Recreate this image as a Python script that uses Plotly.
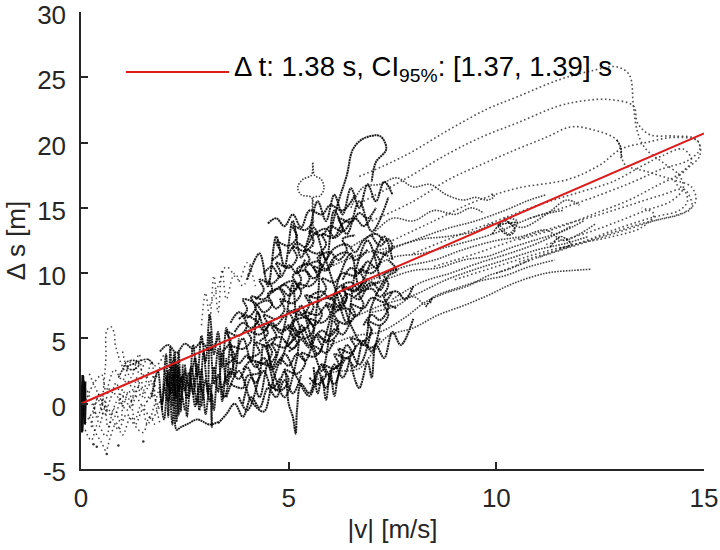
import plotly.graph_objects as go

# ---------------- data ----------------
fit_x = [0.0, 15.0]
fit_y = [0.0, 20.7]

x_ticks = [0, 5, 10, 15]
x_tick_text = ["0", "5", "10", "15"]
y_ticks = [-5, 0, 5, 10, 15, 20, 25, 30]
y_tick_text = ["-5", "0", "5", "10", "15", "20", "25", "30"]

fit_label = "Δ t: 1.38 s, CI<sub>95%</sub>: [1.37, 1.39] s"

# dense strip at |v| = 0
strip_paths = [
    [(0.02, -2.2), (0.05, 2.1), (0.01, -1.9), (0.06, 1.8), (0.03, -2.1), (0.04, 2.2),
     (0.0, -1.5), (0.07, 1.6), (0.02, -2.0), (0.05, 1.9), (0.01, -1.7), (0.06, 0.9), (0.03, -2.1)],
    [(0.08, -1.0), (0.1, 1.2), (0.09, -1.6), (0.11, 0.4), (0.08, -0.6), (0.1, 1.7)],
]

# sparse cloud 0 < |v| < 2
left_paths = [
    [(0.1, -1.5), (0.3, -0.5), (0.45, 0.8), (0.55, -0.3), (0.7, 1.2), (0.9, 0.5), (1.1, 1.8),
     (1.3, 0.9), (1.5, 2.2), (1.7, 1.5), (1.9, 2.8)],
    [(0.15, 0.5), (0.3, 1.5), (0.5, 2.2), (0.6, 1.0), (0.8, 2.6), (1.0, 1.8), (1.2, 3.2),
     (1.4, 2.4), (1.6, 3.4), (1.8, 2.9), (2.0, 3.8)],
    [(0.1, -2.0), (0.25, -2.8), (0.4, -1.6), (0.6, -2.5), (0.75, -1.2), (0.9, -2.0), (1.1, -0.8),
     (1.3, -1.6), (1.5, -0.4), (1.7, -1.2), (1.9, 0.2)],
    [(0.2, -1.0), (0.35, -2.2), (0.5, -3.0), (0.6, -3.6), (0.7, -2.6), (0.85, -1.5), (1.0, -2.4),
     (1.2, -1.0), (1.35, -1.9), (1.5, -2.2), (1.65, -1.0), (1.8, -1.8)],
    [(0.5, -0.5), (0.55, 1.5), (0.6, 3.5), (0.62, 5.6), (0.72, 5.9), (0.8, 5.4), (0.82, 4.6),
     (0.87, 4.0), (0.95, 3.2), (1.05, 2.5)],
    [(0.2, 2.3), (0.35, 1.2), (0.5, 0.2), (0.7, -0.8), (0.9, 0.3), (1.1, -0.5), (1.3, 0.6),
     (1.5, -0.2), (1.7, 0.8), (1.9, -0.6)],
    [(0.15, 1.0), (0.3, -0.3), (0.45, -1.5), (0.6, -0.2), (0.8, -1.0), (1.0, 0.6), (1.2, -0.3),
     (1.4, 1.3), (1.6, 0.2), (1.8, 1.6)],
    [(1.0, 4.0), (1.2, 2.0), (1.4, 3.8), (1.5, 1.0), (1.7, 3.2), (1.8, 0.0), (1.9, -1.5)],
    [(0.3, 0.0), (0.4, -1.0), (0.55, 0.4), (0.65, -1.8), (0.8, -0.4), (0.95, -1.4), (1.05, 0.9),
     (1.2, 0.2), (1.35, 2.0), (1.45, 0.5), (1.6, 1.2), (1.75, 2.2)],
    [(0.25, -1.8), (0.4, 0.4), (0.55, -0.9), (0.7, 0.3), (0.85, 1.6), (1.0, -0.2), (1.15, 1.0),
     (1.3, -1.2), (1.45, -0.1), (1.6, -1.6), (1.75, -0.3), (1.9, 1.4)],
]
left_loop_paths = [
    [(0.9, 2.0), (1.0, 2.6), (1.1, 3.2), (1.3, 3.3), (1.4, 3.0), (1.25, 2.6), (1.1, 2.8),
     (1.3, 3.1), (1.6, 3.4), (1.75, 3.0)],
]
left_dots_x = [0.38, 0.62, 0.3, 0.9, 1.5]
left_dots_y = [-3.3, -3.85, -3.1, -3.2, -2.9]

# dense columns around |v| = 2 ... 3.5
column_paths = [
    [(1.95, -0.5), (2.05, 3.8), (2.1, -1.0), (2.15, 4.3), (2.2, -0.2), (2.25, 3.5), (2.3, -1.4),
     (2.35, 2.8), (2.4, -0.6), (2.45, 3.0)],
    [(1.9, 1.0), (2.0, -1.2), (2.1, 2.5), (2.2, -1.6), (2.25, 1.5), (2.3, -2.0), (2.4, -1.8),
     (2.6, -1.5), (2.8, -1.2), (3.1, -1.6), (3.3, -1.4)],
    [(1.7, 0.5), (1.85, 2.5), (1.95, 0.0), (2.05, 2.0), (2.15, 0.8), (2.25, 3.9), (2.35, 1.0),
     (2.45, 2.2), (2.55, 0.4), (2.65, 2.8), (2.75, 1.2)],
    [(1.9, 4.0), (2.1, 4.5), (2.3, 3.9), (2.5, 4.6), (2.7, 4.2), (2.9, 4.7), (3.1, 4.1), (3.3, 5.0)],
    [(2.6, 0.5), (2.75, 3.5), (2.85, -0.5), (2.95, 4.0), (3.05, 0.8), (3.1, 5.5), (3.2, 1.5),
     (3.3, 4.2), (3.4, 0.2), (3.5, 3.5)],
    [(2.7, 2.0), (2.8, 0.0), (2.9, 2.6), (3.0, -0.8), (3.1, 1.5), (3.15, -1.8), (3.15, 0.8),
     (3.2, -0.5), (3.3, 2.2), (3.45, 0.5), (3.6, 2.8)],
    [(2.5, 3.0), (2.6, 1.2), (2.7, 4.5), (2.8, 2.0), (2.9, 5.2), (3.0, 3.2), (3.1, 6.8),
     (3.2, 3.8), (3.3, 5.5), (3.4, 2.8), (3.5, 5.8), (3.6, 4.0)],
    [(2.0, 1.5), (2.1, 0.2), (2.2, 2.2), (2.3, 0.5), (2.35, 4.0), (2.4, 1.5), (2.5, -0.5)],
    [(2.0, 2.8), (2.1, 1.4), (2.2, 3.2), (2.25, 0.3), (2.3, 2.6), (2.35, -0.9), (2.4, 2.0),
     (2.5, 1.0), (2.6, 2.4), (2.7, 0.8), (2.8, 3.0), (2.9, 1.0)],
    [(2.9, -0.2), (3.0, 1.8), (3.1, 0.2), (3.2, 2.8), (3.3, 0.9), (3.4, 3.9), (3.5, 1.5),
     (3.6, 4.6), (3.7, 2.2), (3.8, 5.0)],
    [(2.2, 0.8), (2.3, 3.0), (2.4, 0.0), (2.5, 2.6), (2.55, -1.0), (2.65, 1.6), (2.75, -0.2),
     (2.85, 1.5), (2.95, 0.3)],
]
upper_sparse_paths = [
    [(2.9, 6.0), (3.0, 8.5), (3.1, 6.5), (3.2, 9.8), (3.3, 7.0), (3.4, 10.3), (3.5, 8.0),
     (3.7, 10.0), (3.9, 9.0), (4.1, 11.0)],
    [(3.1, 7.5), (3.3, 9.0), (3.5, 10.5), (3.8, 9.5), (4.0, 10.8), (4.2, 9.0)],
]

# main core 3.5 < |v| < 7.5 : curly tracks
core_paths = [
    [(3.5, 3.0), (3.7, 3.6), (3.6, 4.4), (3.9, 4.2), (4.1, 4.9), (4.0, 5.6), (4.3, 5.3), (4.5, 6.0),
     (4.4, 6.8), (4.7, 6.5), (4.9, 7.2), (4.8, 8.0), (5.1, 7.7), (5.3, 8.5), (5.2, 9.2), (5.5, 9.0),
     (5.7, 9.7), (5.6, 10.5), (5.9, 10.2), (6.1, 11.0)],
    [(3.6, 1.5), (3.9, 1.2), (4.0, 2.1), (4.3, 2.4), (4.2, 3.2), (4.5, 3.0), (4.7, 3.8), (4.6, 4.6),
     (4.9, 4.3), (5.1, 5.0), (5.0, 5.8), (5.3, 5.5), (5.5, 6.2), (5.4, 7.0), (5.7, 6.8), (5.9, 7.5),
     (6.2, 7.2), (6.4, 8.1), (6.3, 8.9), (6.6, 8.6), (6.8, 9.4)],
    [(4.2, 8.0), (4.4, 8.7), (4.3, 9.5), (4.6, 9.2), (4.8, 10.0), (4.7, 10.8), (5.0, 10.4),
     (5.2, 11.2), (5.1, 12.0), (5.4, 11.7), (5.6, 12.4), (5.5, 13.2), (5.8, 12.9), (6.0, 13.6),
     (6.3, 13.2), (6.5, 14.0)],
    [(4.5, 1.5), (4.8, 1.0), (5.0, 1.8), (4.9, 2.6), (5.2, 2.3), (5.4, 3.1), (5.3, 3.9), (5.6, 3.6),
     (5.8, 4.3), (5.7, 5.1), (6.0, 4.8), (6.2, 5.6), (6.1, 6.4), (6.4, 6.1), (6.6, 6.8), (6.5, 7.6),
     (6.8, 7.3), (7.0, 8.1), (7.3, 7.8), (7.5, 8.6)],
    [(3.8, 6.5), (4.0, 7.2), (3.9, 8.0), (4.2, 7.7), (4.4, 7.0), (4.6, 7.6), (4.5, 8.4), (4.8, 8.8),
     (5.0, 8.3), (5.2, 9.0), (5.1, 9.8), (5.4, 10.2), (5.6, 9.6), (5.8, 10.4), (5.7, 11.2),
     (6.0, 11.6), (6.2, 11.0), (6.4, 11.8), (6.3, 12.6), (6.6, 12.9)],
    [(5.0, 4.0), (5.2, 4.6), (5.1, 5.3), (5.4, 5.0), (5.6, 5.7), (5.5, 6.5), (5.8, 6.2), (6.0, 6.9),
     (5.9, 7.7), (6.2, 7.4), (6.4, 8.2), (6.3, 9.0), (6.6, 8.7), (6.8, 9.5), (6.7, 10.3), (7.0, 10.0),
     (7.2, 10.8), (7.1, 11.6), (7.4, 11.3)],
    [(4.0, 3.5), (4.3, 3.9), (4.2, 4.7), (4.5, 4.4), (4.7, 5.2), (4.6, 5.9), (4.9, 5.6), (5.1, 6.4),
     (5.0, 7.1), (5.3, 6.8), (5.5, 7.6), (5.4, 8.3), (5.7, 8.1), (5.9, 8.8), (5.8, 9.6), (6.1, 9.3),
     (6.3, 10.0), (6.6, 9.8), (6.8, 10.6)],
    [(5.3, 10.5), (5.5, 11.0), (5.4, 11.8), (5.7, 11.5), (5.9, 12.2), (5.8, 13.0), (6.1, 12.7),
     (6.3, 13.4), (6.2, 14.2), (6.5, 13.9), (6.7, 14.6), (6.9, 14.2), (7.1, 15.0)],
    [(6.0, 2.5), (6.2, 3.0), (6.1, 3.8), (6.4, 3.5), (6.6, 4.3), (6.5, 5.0), (6.8, 4.8), (7.0, 5.5),
     (6.9, 6.3), (7.2, 6.0), (7.4, 6.8), (7.3, 7.6), (7.6, 7.3)],
    [(3.4, 4.0), (3.6, 4.8), (3.5, 5.5), (3.8, 5.2), (4.0, 6.0), (3.9, 6.8), (4.2, 6.4), (4.4, 5.6),
     (4.6, 6.2), (4.8, 5.4), (5.0, 6.0), (5.2, 5.3), (5.4, 5.9)],
    [(5.5, 2.0), (5.7, 1.5), (5.9, 2.2), (5.8, 3.0), (6.1, 2.7), (6.3, 3.4), (6.2, 4.2), (6.5, 3.9),
     (6.7, 4.6), (7.0, 4.3), (7.2, 5.0)],
    [(4.6, 11.0), (4.8, 11.6), (4.7, 12.4), (5.0, 12.1), (5.2, 12.8), (5.1, 13.6), (5.4, 13.3),
     (5.6, 14.0)],
    [(3.6, 2.0), (3.9, 5.0), (4.1, 3.2), (4.25, 7.0), (4.5, 4.1), (4.6, 2.8), (4.9, 6.0), (5.1, 9.2),
     (5.2, 6.5), (5.5, 4.5), (5.7, 8.0), (5.8, 11.5), (6.1, 9.0), (6.4, 6.2), (6.6, 10.0),
     (6.9, 12.5), (7.2, 9.5)],
    [(3.8, 0.5), (4.0, -0.5), (4.3, 2.2), (4.4, 4.5), (4.7, 1.8), (4.9, 0.5), (5.2, 3.5), (5.3, 6.0),
     (5.6, 4.0), (5.8, 2.5), (6.0, 5.5), (6.2, 8.5), (6.5, 6.0), (6.8, 4.5), (7.0, 7.5), (7.3, 9.5)],
    [(4.0, 9.5), (4.3, 11.5), (4.5, 9.0), (4.7, 12.8), (4.9, 10.5), (5.1, 14.0), (5.3, 11.2),
     (5.6, 13.5), (5.9, 11.0), (6.1, 14.8), (6.4, 13.0), (6.7, 15.5), (7.0, 13.2), (7.4, 15.8)],
    [(4.8, 3.0), (5.0, 5.0), (5.3, 7.5), (5.5, 5.5), (5.7, 3.8), (6.0, 6.5), (6.2, 9.5), (6.5, 11.5),
     (6.7, 9.0), (7.0, 11.0), (7.3, 12.8), (7.5, 11.0)],
    [(3.5, 0.5), (3.8, 2.5), (4.1, 0.2), (4.4, -0.6), (4.6, 1.5), (4.9, 3.8), (5.2, 2.0), (5.5, 0.6),
     (5.8, 3.0), (6.1, 1.5), (6.4, 4.5), (6.7, 3.0), (7.0, 5.8)],
    [(4.5, 13.8), (4.7, 14.2), (4.9, 13.6), (5.1, 14.5), (5.3, 13.5), (5.5, 14.8), (5.8, 14.5),
     (6.0, 15.2), (6.3, 14.8), (6.6, 16.0)],
    [(3.9, 0.0), (4.1, 2.0), (4.3, 0.5), (4.5, 3.0), (4.7, 1.0), (4.9, 2.5), (5.0, 0.0), (5.1, -1.0),
     (5.17, -2.3), (5.2, -0.5), (5.3, 1.5), (5.5, 0.8), (5.7, 2.5), (5.9, 1.2), (6.1, 3.0),
     (6.3, 2.0), (6.5, 3.8)],
    [(5.6, 2.8), (5.7, 0.8), (5.8, 2.0), (5.9, 0.3), (6.0, 2.5), (6.1, 0.6), (6.2, 2.2), (6.4, 3.5),
     (6.6, 2.8), (6.8, 4.8), (7.0, 4.0), (7.2, 6.0)],
    [(6.0, 13.0), (6.2, 15.5), (6.4, 17.5), (6.55, 19.5), (6.8, 20.3), (7.2, 20.5), (7.35, 19.5),
     (7.1, 18.5), (7.0, 17.0)],
    [(5.5, 13.0), (5.7, 15.5), (5.9, 14.0), (6.1, 16.0), (6.3, 14.5), (6.5, 16.5), (6.7, 15.0),
     (6.9, 16.8), (7.1, 15.5), (7.3, 17.0), (7.5, 16.0)],
    [(3.3, -1.5), (3.5, -0.8), (3.7, 0.0), (3.9, -1.0), (4.1, 0.5), (4.3, -0.3), (4.5, 1.2),
     (4.7, 0.5), (4.9, 1.8), (5.1, 0.8), (5.3, 2.2)],
    [(6.5, 3.0), (6.7, 1.2), (6.9, 3.2), (7.0, 2.0), (7.1, 4.5), (7.3, 3.5), (7.5, 5.5), (7.7, 4.5),
     (8.0, 6.5)],
    [(6.6, 8.2), (6.8, 8.8), (7.0, 9.3), (7.2, 8.7), (7.4, 9.8), (7.6, 10.2), (7.4, 11.0)],
    [(3.7, 5.5), (3.9, 6.2), (4.1, 5.8), (4.3, 6.6), (4.2, 7.4), (4.5, 7.9), (4.7, 7.3), (4.9, 8.1),
     (4.8, 8.9), (5.1, 9.4), (5.3, 8.8), (5.5, 9.6), (5.4, 10.4), (5.7, 10.9), (5.9, 10.3),
     (6.1, 11.2), (6.4, 11.6), (6.6, 11.0), (6.9, 11.8)],
    [(3.9, 2.6), (4.1, 3.3), (4.4, 3.1), (4.6, 3.9), (4.5, 4.7), (4.8, 5.1), (5.0, 4.6), (5.2, 5.4),
     (5.1, 6.2), (5.4, 6.6), (5.6, 6.0), (5.8, 6.8), (5.7, 7.7), (6.0, 8.1), (6.2, 7.5), (6.4, 8.4),
     (6.7, 8.0), (6.9, 8.9), (7.2, 9.3)],
    [(4.6, 8.5), (4.9, 9.1), (5.1, 8.6), (5.3, 9.5), (5.2, 10.3), (5.5, 10.7), (5.7, 10.1),
     (5.9, 11.0), (6.1, 11.9), (6.4, 12.2), (6.6, 11.6), (6.8, 12.5), (7.1, 13.0), (7.3, 12.4)],
    [(5.6, 5.0), (5.8, 5.6), (6.0, 5.2), (6.2, 6.1), (6.1, 6.9), (6.4, 7.3), (6.6, 6.7), (6.8, 7.6),
     (6.7, 8.4), (7.0, 8.8), (7.2, 8.2), (7.4, 9.1), (7.3, 9.9), (7.6, 10.3)],
    [(4.3, 4.8), (4.5, 5.4), (4.4, 6.1), (4.7, 6.0), (4.9, 6.7), (5.2, 7.2), (5.4, 6.6), (5.6, 7.4),
     (5.5, 8.1), (5.8, 8.6), (6.0, 8.0), (6.2, 8.9), (6.5, 9.3), (6.7, 8.7), (6.9, 9.6)],
    [(3.6, 3.8), (3.8, 3.1), (4.0, 3.7), (4.2, 2.8), (4.4, 3.5), (4.6, 2.6), (4.8, 3.4), (5.0, 2.9),
     (5.2, 3.8), (5.4, 3.3), (5.6, 4.4), (5.9, 3.9), (6.1, 4.9)],
    [(5.0, 11.5), (5.2, 12.3), (5.4, 12.0), (5.6, 12.9), (5.9, 13.4), (6.1, 12.8), (6.3, 13.8),
     (6.6, 14.2), (6.8, 13.6), (7.0, 14.3)],
    [(6.8, 6.0), (7.0, 6.8), (7.2, 6.4), (7.4, 7.4), (7.3, 8.2), (7.6, 8.6), (7.8, 8.0), (8.0, 9.0)],
    [(3.4, 1.2), (3.6, 2.4), (3.8, 1.9), (4.0, 2.8), (4.2, 1.6), (4.4, 2.5), (4.6, 1.2), (4.8, 2.0)],
    [(4.4, 10.0), (4.6, 10.5), (4.8, 9.7), (5.0, 10.6), (5.2, 10.0), (5.4, 11.1)],
    [(6.3, 9.5), (6.5, 10.4), (6.7, 10.0), (6.9, 10.9), (7.1, 10.4), (7.3, 11.4), (7.5, 11.9),
     (7.4, 12.6), (7.2, 12.1), (7.0, 12.9)],
    [(3.6, 6.2), (3.8, 7.0), (4.0, 6.6), (4.2, 7.3), (4.1, 8.2), (4.4, 8.0), (4.6, 8.7), (4.5, 9.5)],
    [(4.9, 4.8), (5.1, 4.2), (5.3, 4.9), (5.5, 4.3), (5.7, 5.3), (5.9, 4.7), (6.1, 5.7), (6.3, 5.3),
     (6.5, 6.4)],
]
lamp_path = [
    [(5.58, 12.0), (5.58, 14.5), (5.55, 15.8), (5.3, 16.0), (5.22, 16.6), (5.35, 17.2), (5.55, 17.5),
     (5.58, 18.5), (5.62, 17.5), (5.78, 17.2), (5.85, 16.5), (5.75, 15.9), (5.6, 15.8), (5.6, 14.0)],
]

# middle band 6.5 < |v| < 12.5
mid_paths = [
    [(6.5, 15.0), (6.8, 16.6), (7.2, 16.8), (7.6, 17.3), (8.0, 16.6), (8.4, 16.8), (8.8, 16.0),
     (9.2, 15.6), (9.5, 15.8), (9.8, 15.6), (9.95, 15.9), (9.85, 16.1)],
    [(6.5, 12.0), (7.0, 13.0), (7.5, 14.2), (8.0, 14.0), (8.5, 14.8), (9.0, 14.5), (9.4, 15.0),
     (9.7, 14.6)],
    [(6.0, 10.5), (6.8, 11.5), (7.5, 12.0), (8.2, 12.6), (8.8, 12.8), (9.5, 13.2), (10.0, 13.8),
     (10.3, 13.0), (10.5, 14.0), (10.2, 14.2), (10.6, 13.5), (11.2, 14.5), (11.7, 15.6), (12.0, 15.2)],
    [(6.2, 8.5), (7.0, 9.5), (7.8, 10.5), (8.5, 11.0), (9.2, 11.8), (10.0, 12.5), (10.6, 12.8),
     (11.2, 13.3), (11.6, 12.5), (12.0, 13.0), (12.4, 13.8)],
    [(6.5, 6.5), (7.2, 7.5), (8.0, 8.3), (8.8, 9.5), (9.5, 10.3), (10.2, 11.0), (11.0, 11.8),
     (11.7, 12.3), (12.2, 12.8)],
    [(5.5, 1.5), (6.06, 2.4), (6.7, 2.7), (7.0, 3.8), (7.4, 5.2), (8.0, 5.8), (8.6, 6.8), (9.2, 7.5),
     (9.8, 8.3), (10.4, 9.2), (11.2, 10.0), (11.8, 10.2), (12.3, 10.3)],
    [(6.0, 4.5), (6.6, 5.2), (7.2, 5.5), (7.8, 6.6), (8.3, 7.8), (8.8, 8.5), (9.3, 9.0), (9.8, 9.8),
     (10.3, 10.3), (10.8, 11.0)],
    [(6.8, 10.0), (7.5, 11.2), (8.2, 11.5), (8.8, 12.0), (9.4, 12.5), (10.0, 13.1), (10.5, 13.8),
     (11.0, 14.4), (11.6, 14.8)],
    [(7.0, 7.0), (7.6, 7.5), (8.0, 8.2), (8.3, 7.6), (8.5, 8.2), (9.0, 8.8), (9.6, 9.4), (10.2, 9.8),
     (10.8, 10.5), (11.4, 11.0)],
    [(6.8, 9.0), (7.4, 9.6), (8.0, 10.2), (8.6, 10.4), (9.2, 11.0), (9.8, 11.3), (10.4, 12.0),
     (11.0, 12.6), (11.6, 13.2), (12.1, 14.0)],
    [(7.2, 11.5), (8.0, 12.5), (8.8, 13.4), (9.5, 14.0), (10.2, 14.8), (10.8, 15.6), (11.2, 16.0)],
    [(7.5, 8.0), (8.2, 9.3), (8.9, 10.0), (9.6, 10.8), (10.3, 11.5), (11.0, 12.3), (11.8, 13.6)],
]
knot_paths = [
    [(9.9, 13.0), (10.2, 14.0), (10.45, 13.3), (10.3, 12.9), (10.05, 13.6), (10.5, 13.9)],
    [(11.3, 12.0), (11.55, 12.8), (11.8, 12.2), (11.5, 11.9)],
    [(8.3, 7.4), (8.45, 8.1), (8.4, 7.6)],
    [(12.9, 20.2), (13.0, 19.6), (13.0, 18.8)],
]

# long excursions fanning out to the right
fan_paths = [
    [(6.7, 17.4), (7.8, 19.0), (8.87, 21.0), (9.8, 22.6), (10.5, 23.5), (11.5, 24.8), (12.3, 25.5),
     (12.9, 25.8), (13.2, 25.2), (13.3, 22.8), (13.4, 20.8), (13.6, 19.5), (14.0, 18.5), (14.4, 17.5),
     (14.5, 16.5), (14.2, 15.5), (13.6, 14.8), (12.8, 13.8), (12.0, 12.9), (11.2, 12.2)],
    [(6.8, 15.5), (7.8, 17.2), (8.87, 19.2), (9.7, 20.5), (10.5, 21.5), (11.5, 22.8), (12.1, 23.2),
     (12.7, 23.3), (13.3, 22.8), (13.4, 21.5), (13.7, 20.6), (14.3, 20.5), (14.8, 20.3), (14.9, 19.5),
     (14.6, 18.6), (14.0, 18.0), (13.3, 17.0), (12.5, 16.0), (11.6, 15.0), (10.8, 14.2)],
    [(7.0, 14.0), (8.0, 15.5), (8.87, 17.2), (9.7, 18.4), (10.5, 19.5), (11.2, 20.4), (11.8, 21.2),
     (12.3, 21.0), (12.9, 20.2), (13.0, 19.2), (13.1, 18.3), (13.6, 17.8), (14.2, 17.2), (14.7, 16.6),
     (14.8, 15.5), (14.5, 14.6), (13.9, 14.1), (13.0, 13.2), (12.0, 12.2), (11.0, 11.2)],
    [(7.5, 12.5), (8.5, 14.0), (9.5, 15.5), (10.5, 16.5), (11.75, 17.2), (12.5, 18.3), (13.0, 19.5),
     (13.6, 20.0), (14.3, 20.4), (14.85, 20.1), (14.9, 19.0), (14.6, 18.0), (14.3, 17.0), (14.6, 16.2),
     (14.7, 15.0), (14.3, 14.4), (13.5, 13.8), (12.5, 12.8), (11.5, 11.8), (10.5, 10.8)],
    [(8.0, 11.5), (9.0, 12.8), (10.0, 14.0), (11.0, 15.2), (12.0, 16.2), (12.8, 17.0), (13.5, 18.2),
     (14.0, 19.0), (14.5, 19.5), (14.7, 18.6), (14.4, 17.6), (13.8, 16.6), (13.2, 15.6), (12.4, 14.6),
     (11.5, 13.5), (10.5, 12.5)],
    [(8.5, 10.5), (9.5, 11.5), (10.5, 12.6), (11.5, 13.6), (12.5, 14.5), (13.3, 15.3), (14.0, 16.0),
     (14.5, 16.4), (14.6, 15.5), (14.4, 14.8), (13.8, 14.3), (13.0, 13.5), (12.0, 12.3), (11.0, 11.2),
     (10.0, 10.0)],
    [(9.0, 9.5), (10.0, 10.5), (11.0, 11.5), (12.0, 12.3), (12.8, 12.8), (13.5, 13.5), (13.8, 14.5),
     (13.5, 15.0)],
]


def flatten(paths):
    xs, ys = [], []
    for path in paths:
        for px, py in path:
            xs.append(px)
            ys.append(py)
        xs.append(None)
        ys.append(None)
    return xs, ys


fig = go.Figure()


def add_group(paths, color, width, dash, shape="linear"):
    xs, ys = flatten(paths)
    fig.add_trace(go.Scatter(
        x=xs, y=ys, mode="lines", hoverinfo="skip", showlegend=False,
        line=dict(color=color, width=width, dash=dash, shape=shape, smoothing=1.0),
    ))


add_group(fan_paths, "rgba(60,60,60,0.9)", 1.6, "1.6px,2.6px", "spline")
add_group(mid_paths, "rgba(35,35,35,0.85)", 1.6, "1.6px,1.3px", "spline")
add_group(knot_paths, "rgba(0,0,0,0.85)", 1.5, "2px,1px", "spline")
add_group(left_paths, "rgba(0,0,0,0.75)", 1.5, "1.5px,3px", "spline")
add_group(left_loop_paths, "rgba(0,0,0,0.85)", 1.6, "2px,1px", "spline")
add_group(upper_sparse_paths, "rgba(0,0,0,0.7)", 1.5, "1.5px,3.5px", "spline")
add_group(column_paths, "rgba(0,0,0,0.9)", 1.9, "1.9px,0.6px", "spline")
add_group(core_paths, "rgba(0,0,0,0.9)", 2.0, "2px,0.6px", "spline")
add_group(lamp_path, "rgba(30,30,30,0.9)", 1.5, "1.5px,1.5px", "spline")
add_group(strip_paths, "rgba(0,0,0,0.95)", 2.5, "solid")

fig.add_trace(go.Scatter(
    x=left_dots_x, y=left_dots_y, mode="markers", hoverinfo="skip", showlegend=False,
    marker=dict(color="rgba(0,0,0,0.8)", size=2.5),
))

fig.add_trace(go.Scatter(
    x=fit_x, y=fit_y, mode="lines", hoverinfo="skip", showlegend=False,
    line=dict(color="#dd1c1c", width=2),
))

axis_color = "#262626"
font_family = "Liberation Sans, Arial, sans-serif"

common_axis = dict(
    showline=True, linecolor=axis_color, linewidth=1.5, mirror=False,
    ticks="inside", ticklen=7, tickwidth=1.5, tickcolor=axis_color,
    showgrid=False, zeroline=False, automargin=False, ticklabeloverflow="allow",
    tickfont=dict(family=font_family, size=26, color=axis_color),
)

fig.update_layout(
    width=720, height=550,
    margin=dict(l=81, r=16, t=12, b=81),
    paper_bgcolor="white", plot_bgcolor="white",
    font=dict(family=font_family, color=axis_color),
    xaxis=dict(range=[0, 15], tickvals=x_ticks, ticktext=x_tick_text, ticklabelstandoff=5,
               title=dict(text="|v| [m/s]", font=dict(size=26), standoff=8), **common_axis),
    yaxis=dict(range=[-5, 30], tickvals=y_ticks, ticktext=y_tick_text, ticklabelstandoff=8,
               ticklabelshift=3,
               title=dict(text="Δ s [m]", font=dict(size=26), standoff=4), **common_axis),
    shapes=[dict(type="line", xref="paper", yref="paper", x0=0.0722, x1=0.2376,
                 y0=0.8687, y1=0.8687, line=dict(color="#dd1c1c", width=2))],
    annotations=[dict(text=fit_label, xref="paper", yref="paper", x=0.243, y=0.877,
                      xanchor="left", yanchor="middle", showarrow=False,
                      font=dict(family=font_family, size=27.5, color="black"))],
)

# remove the browser's default 8 px page margin so the figure sits at the window corner
fig.write_html("out.html", config={"displayModeBar": False},
               post_script="document.body.style.margin = '0';")
